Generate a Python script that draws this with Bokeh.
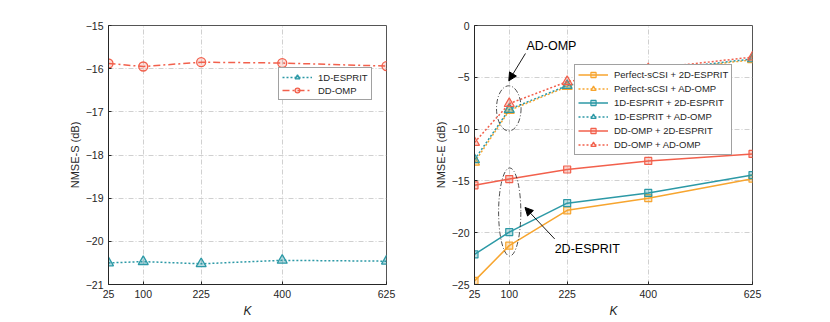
from bokeh.plotting import figure
from bokeh.layouts import row
from bokeh.models import Legend, LegendItem, FixedTicker, Range1d, Arrow, NormalHead, Label
from bokeh.embed import file_html
from bokeh.resources import INLINE

# ---------------- data ----------------
K = [25, 100, 225, 400, 625]

# left panel: NMSE-S (dB)
s_1d_esprit = [-20.50, -20.47, -20.52, -20.44, -20.46]
s_dd_omp = [-15.88, -15.95, -15.85, -15.87, -15.94]

# right panel: NMSE-E (dB)
e_perfect_2d = [-24.65, -21.25, -17.84, -16.67, -14.79]
e_perfect_ad = [-13.20, -8.20, -5.90, -4.50, -3.30]
e_1d_2d = [-22.10, -19.94, -17.15, -16.16, -14.44]
e_1d_ad = [-12.95, -8.10, -5.79, -4.40, -3.22]
e_dd_2d = [-15.43, -14.82, -13.90, -13.07, -12.40]
e_dd_ad = [-11.29, -7.54, -5.42, -4.18, -3.05]

left_yticks = [-21, -20, -19, -18, -17, -16, -15]
right_yticks = [-25, -20, -15, -10, -5, 0]

# annotation positions (data units)
ad_ellipse = dict(x=99, y=-8.0, w=53, h=4.36)
esp_ellipse = dict(x=101, y=-18.0, w=48, h=8.5)
ad_text = (137, -2.0, "AD-OMP")
esp_text = (198, -21.54, "2D-ESPRIT")
ad_arrow = (135, -2.7, 99, -5.34)
esp_arrow = (198, -20.6, 134, -17.56)

ORANGE = "#F7A52F"
TEAL = "#2C99A6"
RED = "#F2604C"
FONT = "Liberation Sans"
DARK = "#262626"


def style(p, yticks):
    p.xaxis.ticker = FixedTicker(ticks=K)
    p.yaxis.ticker = FixedTicker(ticks=yticks)
    for ax in (p.xaxis[0], p.yaxis[0]):
        ax.axis_line_color = DARK
        ax.major_tick_line_color = DARK
        ax.major_tick_in = 3
        ax.major_tick_out = 0
        ax.minor_tick_line_color = None
        ax.major_label_text_font = FONT
        ax.major_label_text_font_size = "10.5px"
        ax.major_label_text_color = DARK
        ax.axis_label_text_font = FONT
        ax.axis_label_text_font_size = "11px"
        ax.axis_label_text_color = DARK
        ax.major_label_standoff = 5
    p.xaxis.axis_label = "K"
    p.xaxis.axis_label_text_font_style = "italic"
    p.xaxis.axis_label_text_font_size = "12px"
    p.xaxis.axis_label_standoff = 3
    p.yaxis.axis_label_text_font_style = "normal"
    p.yaxis.axis_label_standoff = 2
    for g in (p.xgrid[0], p.ygrid[0]):
        g.grid_line_color = "#c4c4c4"
        g.grid_line_dash = "5 2 1 2"
        g.grid_line_width = 0.8
    p.outline_line_color = "#555555"
    p.outline_line_width = 1
    p.background_fill_color = "white"
    p.border_fill_color = "white"


def style_legend(leg, lh):
    leg.label_text_font = FONT
    leg.label_text_font_size = "9.5px"
    leg.label_text_color = DARK
    leg.label_height = lh
    leg.glyph_height = lh
    leg.glyph_width = 30
    leg.label_standoff = 6
    leg.spacing = 1
    leg.padding = 3
    leg.margin = 0
    leg.border_line_color = "#444444"
    leg.border_line_width = 0.8
    leg.background_fill_alpha = 1


# ---------------- left figure ----------------
p1 = figure(width=423, height=320, output_backend="svg", toolbar_location=None,
            x_range=Range1d(25, 625), y_range=Range1d(-21, -15),
            min_border_left=108, min_border_right=37, min_border_top=25, min_border_bottom=33)
style(p1, left_yticks)
p1.yaxis.axis_label = "NMSE-S (dB)"

l1 = p1.line(K, s_1d_esprit, line_color=TEAL, line_width=1.5, line_dash="2 2")
m1 = p1.scatter(K, s_1d_esprit, marker="triangle", size=10, line_color=TEAL, line_width=1.3,
                fill_color=TEAL, fill_alpha=0.35)
l2 = p1.line(K, s_dd_omp, line_color=RED, line_width=1.5, line_dash="7 3 2 3")
m2 = p1.scatter(K, s_dd_omp, marker="circle", size=9, line_color=RED, line_width=1.3,
                fill_color=RED, fill_alpha=0.2)

leg1 = Legend(items=[LegendItem(label="1D-ESPRIT", renderers=[l1, m1]),
                     LegendItem(label="DD-OMP", renderers=[l2, m2])],
              location=(170, 184), orientation="vertical")
style_legend(leg1, 12)
p1.add_layout(leg1)

# ---------------- right figure ----------------
p2 = figure(width=400, height=320, output_backend="svg", toolbar_location=None,
            x_range=Range1d(25, 625), y_range=Range1d(-25, 0),
            min_border_left=51, min_border_right=71, min_border_top=25, min_border_bottom=33)
style(p2, right_yticks)
p2.yaxis.axis_label = "NMSE-E (dB)"

series = [
    ("Perfect-sCSI + 2D-ESPRIT", e_perfect_2d, ORANGE, "solid", "square"),
    ("Perfect-sCSI + AD-OMP", e_perfect_ad, ORANGE, "2 2", "triangle"),
    ("1D-ESPRIT + 2D-ESPRIT", e_1d_2d, TEAL, "solid", "square"),
    ("1D-ESPRIT + AD-OMP", e_1d_ad, TEAL, "2 2", "triangle"),
    ("DD-OMP + 2D-ESPRIT", e_dd_2d, RED, "solid", "square"),
    ("DD-OMP + AD-OMP", e_dd_ad, RED, "2 2", "triangle"),
]
items = []
for name, ys, col, dash, mk in series:
    ln = p2.line(K, ys, line_color=col, line_width=1.5, line_dash=dash)
    sz = 7 if mk == "square" else 10
    sc = p2.scatter(K, ys, marker=mk, size=sz, line_color=col, line_width=1.2,
                    fill_color=col, fill_alpha=0.3)
    items.append(LegendItem(label=name, renderers=[ln, sc]))

# annotations
for e in (ad_ellipse, esp_ellipse):
    p2.ellipse(x=[e["x"]], y=[e["y"]], width=[e["w"]], height=[e["h"]], fill_color=None,
               line_color="#222222", line_width=0.8, line_dash="5 2 1 2")
for (x0, y0, x1, y1) in (ad_arrow, esp_arrow):
    p2.add_layout(Arrow(x_start=x0, y_start=y0, x_end=x1, y_end=y1, line_color="black",
                        line_width=0.9,
                        end=NormalHead(size=8, fill_color="black", line_color="black")))
for (tx, ty, tt) in (ad_text, esp_text):
    p2.add_layout(Label(x=tx, y=ty, text=tt, text_font=FONT, text_font_size="12.5px",
                        text_color="black", text_baseline="middle", text_align="left"))

leg2 = Legend(items=items, location=(100, 129), orientation="vertical")
style_legend(leg2, 13)
p2.add_layout(leg2)

layout = row(p1, p2)
open("out.html", "w").write(file_html(layout, INLINE))
